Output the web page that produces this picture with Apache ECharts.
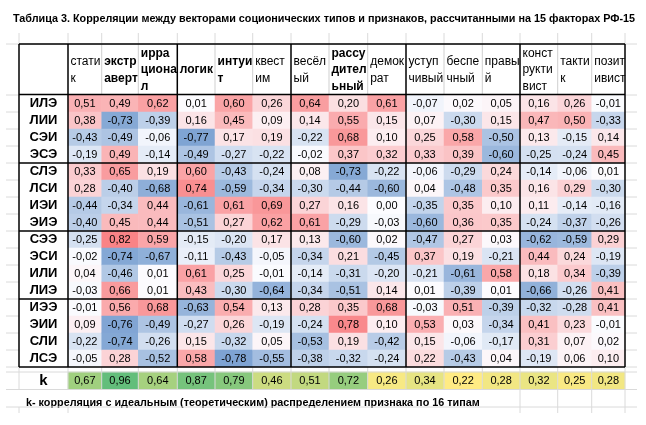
<!DOCTYPE html>
<html lang="ru">
<head>
	<meta charset="UTF-8">
	<title>Таблица 3</title>
	<script src="https://cdn.jsdelivr.net/npm/echarts@6/dist/echarts.min.js"></script>
	<style>
		html, body { margin: 0; padding: 0; background: #fff; }
		#chart { width: 646px; height: 425px; }
	</style>
</head>
<body>
	<div id="chart"></div>
	<script>
		// данные таблицы
		var types = ['ИЛЭ', 'ЛИИ', 'СЭИ', 'ЭСЭ', 'СЛЭ', 'ЛСИ', 'ИЭИ', 'ЭИЭ',
			'СЭЭ', 'ЭСИ', 'ИЛИ', 'ЛИЭ', 'ИЭЭ', 'ЭИИ', 'СЛИ', 'ЛСЭ'];
		var features = ['стати\nк', 'экстр\nаверт', 'ирра\nциона\nл', 'логик', 'интуи\nт',
			'квест\nим', 'весёл\nый', 'рассу\nдител\nьный', 'демок\nрат', 'уступ\nчивый',
			'беспе\nчный', 'правы\nй', 'конст\nрукти\nвист', 'такти\nк', 'позит\nивист'];
		var boldFeatures = ['экстр\nаверт', 'ирра\nциона\nл', 'логик', 'интуи\nт', 'рассу\nдител\nьный'];

		var ILE = [0.51, 0.49, 0.62, 0.01, 0.60, 0.26, 0.64, 0.20, 0.61, -0.07, 0.02, 0.05, 0.16, 0.26, -0.01];
		var LII = [0.38, -0.73, -0.39, 0.16, 0.45, 0.09, 0.14, 0.55, 0.15, 0.07, -0.30, 0.15, 0.47, 0.50, -0.33];
		var SEI = [-0.43, -0.49, -0.06, -0.77, 0.17, 0.19, -0.22, 0.68, 0.10, 0.25, 0.58, -0.50, 0.13, -0.15, 0.14];
		var ESE = [-0.19, 0.49, -0.14, -0.49, -0.27, -0.22, -0.02, 0.37, 0.32, 0.33, 0.39, -0.60, -0.25, -0.24, 0.45];
		var SLE = [0.33, 0.65, 0.19, 0.60, -0.43, -0.24, 0.08, -0.73, -0.22, -0.06, -0.29, 0.24, -0.14, -0.06, 0.01];
		var LSI = [0.28, -0.40, -0.68, 0.74, -0.59, -0.34, -0.30, -0.44, -0.60, 0.04, -0.48, 0.35, 0.16, 0.29, -0.30];
		var IEI = [-0.44, -0.34, 0.44, -0.61, 0.61, 0.69, 0.27, 0.16, 0.00, -0.35, 0.35, 0.10, 0.11, -0.14, -0.16];
		var EIE = [-0.40, 0.45, 0.44, -0.51, 0.27, 0.62, 0.61, -0.29, -0.03, -0.60, 0.36, 0.35, -0.24, -0.37, -0.26];
		var SEE = [-0.25, 0.82, 0.59, -0.15, -0.20, 0.17, 0.13, -0.60, 0.02, -0.47, 0.27, 0.03, -0.62, -0.59, 0.29];
		var ESI = [-0.02, -0.74, -0.67, -0.11, -0.43, -0.05, -0.34, 0.21, -0.45, 0.37, 0.19, -0.21, 0.44, 0.24, -0.19];
		var ILI = [0.04, -0.46, 0.01, 0.61, 0.25, -0.01, -0.14, -0.31, -0.20, -0.21, -0.61, 0.58, 0.18, 0.34, -0.39];
		var LIE = [-0.03, 0.66, 0.01, 0.43, -0.30, -0.64, -0.34, -0.51, 0.14, 0.01, -0.39, 0.01, -0.66, -0.26, 0.41];
		var IEE = [-0.01, 0.56, 0.68, -0.63, 0.54, 0.13, 0.28, 0.35, 0.68, -0.03, 0.51, -0.39, -0.32, -0.28, 0.41];
		var EII = [0.09, -0.76, -0.49, -0.27, 0.26, -0.19, -0.24, 0.78, 0.10, 0.53, 0.03, -0.34, 0.41, 0.23, -0.01];
		var SLI = [-0.22, -0.74, -0.26, 0.15, -0.32, 0.05, -0.53, 0.19, -0.42, 0.15, -0.06, -0.17, 0.31, 0.07, 0.02];
		var LSE = [-0.05, 0.28, -0.52, 0.58, -0.78, -0.55, -0.38, -0.32, -0.24, 0.22, -0.43, 0.04, -0.19, 0.06, 0.10];
		var kValues = [0.67, 0.96, 0.64, 0.87, 0.79, 0.46, 0.51, 0.72, 0.26, 0.34, 0.22, 0.28, 0.32, 0.25, 0.28];

		var matrix = [ILE, LII, SEI, ESE, SLE, LSI, IEI, EIE, SEE, ESI, ILI, LIE, IEE, EII, SLI, LSE];

		// раскладка (как ширины столбцов в Excel)
		var colEdges = [68, 101.7, 138.3, 177.3, 215, 252.7, 291, 329, 367.7, 406, 444, 482.3, 520, 557.7, 591.7, 625];
		var tableLeft = 19, headTop = 44, bodyTop = 95, rowH = 17, kTop = 372, kH = 17.5;
		var bodyBottom = bodyTop + rowH * types.length;
		var font = 'Liberation Sans, Arial, sans-serif';

		function fmt(v) { return v.toFixed(2).replace('.', ','); }

		var grids = [], xAxes = [], yAxes = [], series = [], mainIdx = [], kIdx = [];

		features.forEach(function (f, i) {
			var w = colEdges[i + 1] - colEdges[i];
			var isBold = boldFeatures.indexOf(f) >= 0;
			// основная часть
			grids.push({ left: colEdges[i], top: bodyTop, width: w, height: bodyBottom - bodyTop });
			xAxes.push({
				type: 'category', gridIndex: grids.length - 1, position: 'top', data: [f],
				axisLine: { show: false }, axisTick: { show: false }, splitLine: { show: false },
				axisLabel: {
					interval: 0, margin: 25, verticalAlign: 'middle',
					formatter: function (val) {
						return val.split('\n').map(function (s) { return '{h|' + s + '}'; }).join('\n');
					},
					rich: {
						h: {
							width: w - 5, align: 'left', fontSize: 12, lineHeight: 16.5,
							fontFamily: font, color: '#000', fontWeight: isBold ? 'bold' : 'normal'
						}
					}
				}
			});
			yAxes.push({
				type: 'category', gridIndex: grids.length - 1, data: types, inverse: true,
				axisLine: { show: false }, axisTick: { show: false }, splitLine: { show: false },
				axisLabel: i === 0 ? {
					interval: 0, align: 'center', margin: (colEdges[0] - tableLeft) / 2,
					fontSize: 13, fontWeight: 'bold', fontFamily: font, color: '#000'
				} : { show: false }
			});
			mainIdx.push(series.length);
			series.push({
				type: 'heatmap', xAxisIndex: grids.length - 1, yAxisIndex: grids.length - 1,
				data: matrix.map(function (row, r) { return [0, r, row[i]]; }),
				itemStyle: { borderWidth: 0 },
				label: {
					show: true, fontSize: 11, fontFamily: font, color: '#000',
					formatter: function (p) { return fmt(p.value[2]); }
				},
				emphasis: { disabled: true }
			});

			// строка k
			grids.push({ left: colEdges[i], top: kTop, width: w, height: kH });
			xAxes.push({
				type: 'category', gridIndex: grids.length - 1, data: [f], show: false
			});
			yAxes.push({
				type: 'category', gridIndex: grids.length - 1, data: ['k'],
				axisLine: { show: false }, axisTick: { show: false }, splitLine: { show: false },
				axisLabel: i === 0 ? {
					align: 'center', margin: (colEdges[0] - tableLeft) / 2,
					fontSize: 15, fontWeight: 'bold', fontFamily: font, color: '#000'
				} : { show: false }
			});
			kIdx.push(series.length);
			series.push({
				type: 'heatmap', xAxisIndex: grids.length - 1, yAxisIndex: grids.length - 1,
				data: [[0, 0, kValues[i]]],
				itemStyle: { borderWidth: 0 },
				label: {
					show: true, fontSize: 11, fontFamily: font, color: '#000',
					formatter: function (p) { return fmt(p.value[2]); }
				},
				emphasis: { disabled: true }
			});
		});

		// линии таблицы
		var lines = [];
		function line(x1, y1, x2, y2, color, width) {
			lines.push({
				type: 'line', silent: true, z: 100,
				shape: { x1: x1, y1: y1, x2: x2, y2: y2 },
				style: { stroke: color, lineWidth: width }
			});
		}
		var grey = '#dadada';
		var right = colEdges[colEdges.length - 1];
		// сетка листа вне таблицы
		for (var y = bodyTop; y <= bodyBottom; y += rowH) {
			line(6, y, tableLeft, y, grey, 1);
			line(right, y, 637, y, grey, 1);
		}
		[headTop, kTop, kTop + kH, kTop + 2 * kH].forEach(function (yy) {
			line(6, yy, 637, yy, grey, 1);
		});
		[tableLeft].concat(colEdges).forEach(function (x) {
			line(x, 33, x, headTop, grey, 1);
			line(x, bodyBottom, x, kTop + kH, grey, 1);
			if (x > 485) line(x, kTop + kH, x, kTop + 2 * kH + 6, grey, 1);
			if (x < 70) line(x, kTop + 2 * kH, x, kTop + 2 * kH + 6, grey, 1);
		});
		// тонкие линии в шапке
		colEdges.forEach(function (x, i) {
			if (i % 3 !== 0) line(x, headTop, x, bodyTop, '#cfcfcf', 1);
		});
		// жирные линии
		var black = '#000';
		line(tableLeft, headTop, right, headTop, black, 1.5);
		line(tableLeft, bodyTop - 0.5, right, bodyTop - 0.5, black, 1.5);
		for (var g = 4; g <= types.length; g += 4) {
			line(tableLeft, bodyTop + g * rowH, right, bodyTop + g * rowH, black, 1.5);
		}
		line(tableLeft, headTop, tableLeft, bodyBottom, black, 1.5);
		colEdges.forEach(function (x, i) {
			if (i % 3 === 0) line(x, headTop, x, bodyBottom, black, 1.5);
		});

		var option = {
			backgroundColor: '#fff',
			animation: false,
			title: [{
				text: 'Таблица 3. Корреляции между векторами соционических типов и признаков, рассчитанными на 15 факторах РФ-15',
				left: 8, top: 9,
				textStyle: { fontSize: 10.8, fontWeight: 'bold', fontFamily: font, color: '#000' }
			}, {
				text: 'k- корреляция с идеальным (теоретическим) распределением признака по 16 типам',
				left: 21, top: kTop + kH + 3,
				textStyle: { fontSize: 10.8, fontWeight: 'bold', fontFamily: font, color: '#000' }
			}],
			grid: grids,
			xAxis: xAxes,
			yAxis: yAxes,
			visualMap: [{
				show: false, seriesIndex: mainIdx, dimension: 2,
				min: -1, max: 1,
				inRange: { color: ['#5A8AC6', '#FCFCFF', '#F8696B'] }
			}, {
				show: false, seriesIndex: kIdx, dimension: 2,
				min: 0.22, max: 0.96,
				inRange: { color: ['#FFEB84', '#63BE7B'] }
			}],
			graphic: lines,
			series: series
		};

		var myChart = echarts.init(document.getElementById('chart'));
		myChart.setOption(option);
	</script>
</body>
</html>
